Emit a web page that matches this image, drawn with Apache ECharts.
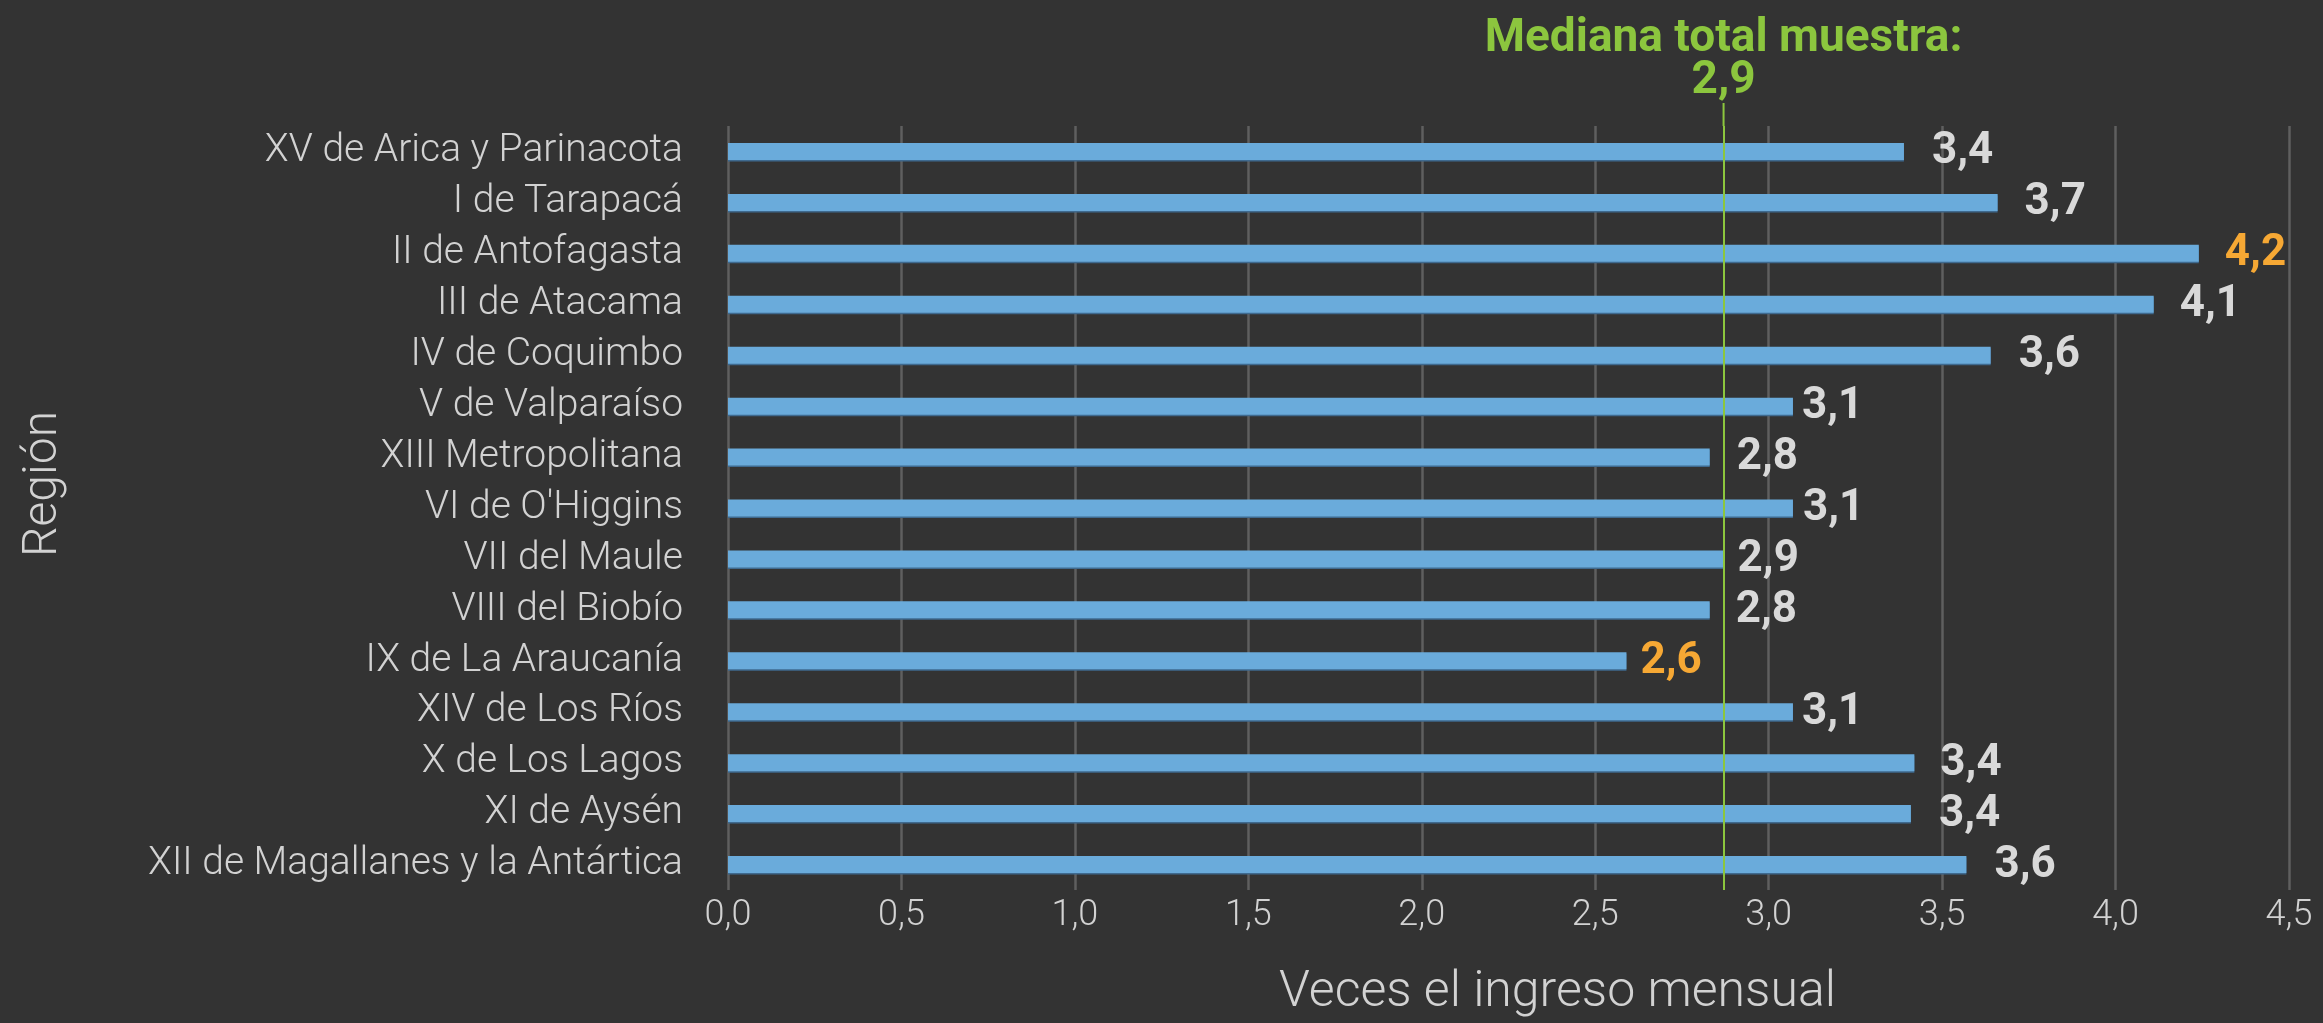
<!DOCTYPE html>
<html>
<head>
<meta charset="utf-8">
<script src="https://cdn.jsdelivr.net/npm/echarts@6/dist/echarts.min.js"></script>
<style>
html,body{margin:0;padding:0;background:#333333;}
#chart{width:2323px;height:1023px;}
</style>
</head>
<body>
<div id="chart"></div>
<script>
// ---- data ----
const regions = [
  'XV de Arica y Parinacota',
  'I de Tarapacá',
  'II de Antofagasta',
  'III de Atacama',
  'IV de Coquimbo',
  'V de Valparaíso',
  'XIII Metropolitana',
  "VI de O'Higgins",
  'VII del Maule',
  'VIII del Biobío',
  'IX de La Araucanía',
  'XIV de Los Ríos',
  'X de Los Lagos',
  'XI de Aysén',
  'XII de Magallanes y la Antártica'
];
const veces = [3.39, 3.66, 4.24, 4.11, 3.64, 3.07, 2.83, 3.07, 2.87, 2.83, 2.59, 3.07, 3.42, 3.41, 3.57];
const highlighted = ['II de Antofagasta', 'IX de La Araucanía'];
const medianValue = 2.87;
const medianLabel = 'Mediana total muestra:';
const medianText = '2,9';
const xTicks = [0, 0.5, 1.0, 1.5, 2.0, 2.5, 3.0, 3.5, 4.0, 4.5];
const xTitle = 'Veces el ingreso mensual';
const yTitle = 'Región';

// ---- styles (label gaps, not data) ----
const labelGap = [28, 27, 26, 26, 28, 9, 27, 10, 14, 26, 14, 9, 26, 28, 28];
const fmt = v => v.toFixed(1).replace('.', ',');

const chart = echarts.init(document.getElementById('chart'));
const textCol = '#d2d2d2';
const lightFont = 'Roboto';

const barData = veces.map((v, i) => ({
  value: v,
  label: {
    distance: labelGap[i],
    color: highlighted.includes(regions[i]) ? '#f6a834' : '#d9d9d9'
  }
}));

chart.setOption({
  backgroundColor: '#333333',
  animation: false,
  grid: { left: 728, right: 34, top: 126, bottom: 133 },
  xAxis: {
    type: 'value',
    min: xTicks[0],
    max: xTicks[xTicks.length - 1],
    interval: xTicks[1] - xTicks[0],
    axisLine: { show: false },
    axisTick: { show: false },
    splitLine: { show: true, lineStyle: { color: '#5f5f5f', width: 2.5 } },
    axisLabel: {
      formatter: v => fmt(v),
      color: textCol, fontFamily: lightFont, fontWeight: 300, fontSize: 36, margin: 8
    },
    name: xTitle,
    nameLocation: 'middle',
    nameGap: 78,
    nameTextStyle: { color: textCol, fontFamily: lightFont, fontWeight: 300, fontSize: 50, padding: [0, 0, 0, 98] }
  },
  yAxis: {
    type: 'category',
    data: regions,
    inverse: true,
    axisLine: { show: false },
    axisTick: { show: false },
    splitLine: { show: false },
    axisLabel: { color: textCol, fontFamily: lightFont, fontWeight: 300, fontSize: 39, margin: 45 },
    name: yTitle,
    nameLocation: 'middle',
    nameGap: 660,
    nameRotate: 90,
    nameTextStyle: { color: textCol, fontFamily: lightFont, fontWeight: 300, fontSize: 48, padding: [0, 0, 0, 48] }
  },
  series: [{
    type: 'bar',
    data: barData,
    barWidth: 17,
    itemStyle: {
      color: '#6aabdb',
      shadowColor: '#3f6a8f',
      shadowOffsetY: 1.5,
      shadowBlur: 0
    },
    label: {
      show: true,
      position: 'right',
      offset: [0, 1],
      formatter: p => fmt(p.value),
      fontFamily: 'Roboto', fontWeight: 'bold', fontSize: 44
    },
    markLine: {
      silent: true,
      symbol: 'none',
      animation: false,
      lineStyle: { color: '#8cc63e', width: 2, type: 'solid' },
      label: {
        show: true,
        position: 'start',
        distance: 24,
        formatter: medianLabel + '\n' + medianText,
        color: '#8cc63e', fontFamily: 'Roboto', fontWeight: 'bold', fontSize: 46, lineHeight: 42, align: 'center'
      },
      data: [{ xAxis: medianValue }]
    },
    z: 3
  }]
});

// extend the median line up to its label
const mx = chart.convertToPixel({ xAxisIndex: 0 }, medianValue);
chart.setOption({
  graphic: [{
    type: 'line',
    shape: { x1: mx, y1: 103, x2: mx, y2: 126 },
    style: { stroke: '#8cc63e', lineWidth: 2 },
    z: 10
  }]
});
</script>
</body>
</html>
